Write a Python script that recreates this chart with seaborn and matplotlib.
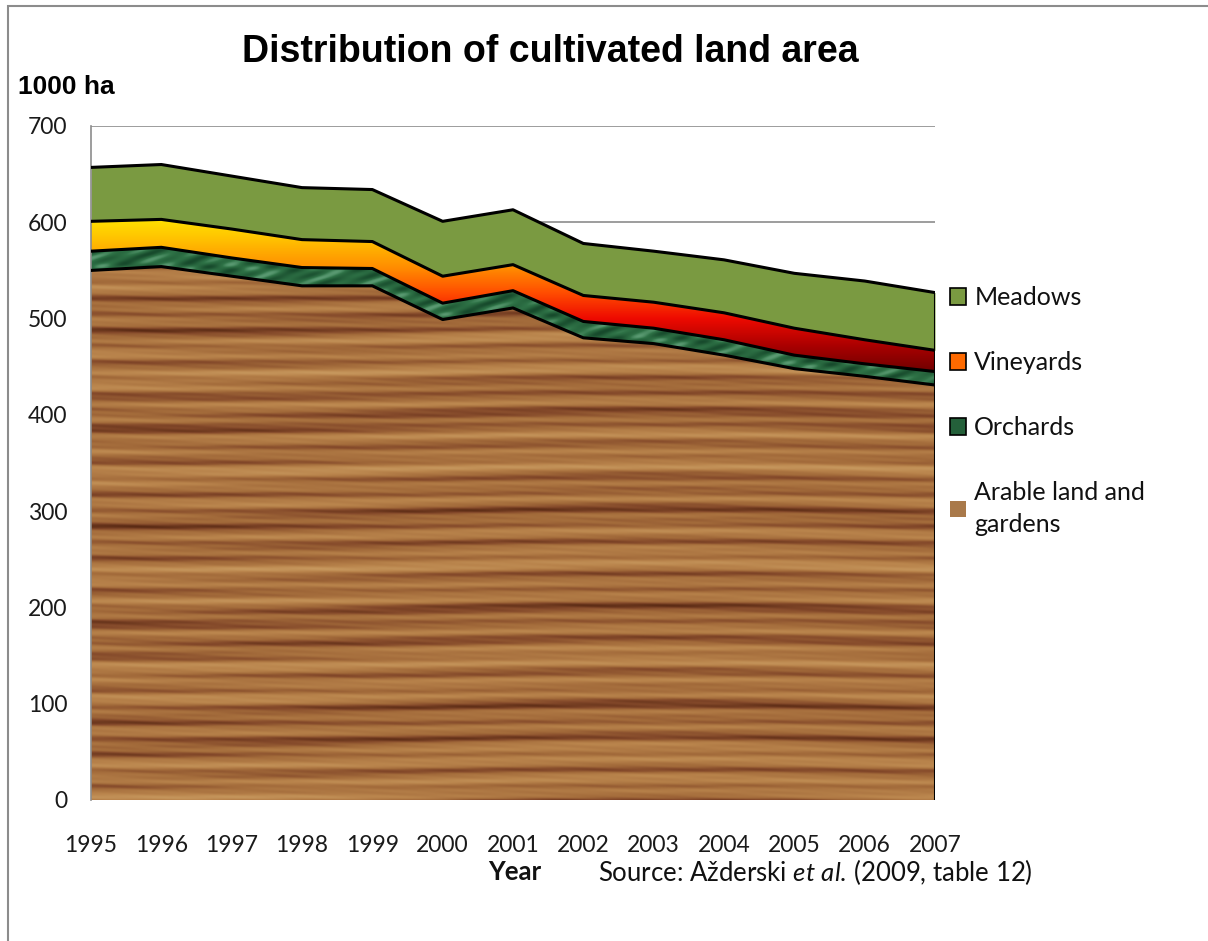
import numpy as np
import pandas as pd
import matplotlib
matplotlib.use('Agg')
import matplotlib.pyplot as plt
import seaborn as sns
from matplotlib.colors import LinearSegmentedColormap, Normalize
from matplotlib.patches import Patch, Rectangle

# data (1000 ha)
years = [1995, 1996, 1997, 1998, 1999, 2000, 2001, 2002, 2003, 2004, 2005, 2006, 2007]
arable = [550, 554, 544, 534, 534, 499, 511, 480, 474, 462, 448, 440, 431]
orchards = [20, 20, 19, 19, 18, 17, 18, 17, 16, 16, 14, 13, 14]
vineyards = [31, 29, 30, 29, 28, 28, 27, 27, 27, 28, 28, 25, 22]
meadows = [56, 57, 55, 54, 54, 57, 57, 54, 53, 55, 57, 61, 60]
series_names = ['Meadows', 'Vineyards', 'Orchards', 'Arable land and\ngardens']
y_ticks = [0, 100, 200, 300, 400, 500, 600, 700]

sns.set_theme(style='white')
plt.rcParams['font.family'] = ['Lato', 'DejaVu Sans']
plt.rcParams['mathtext.fontset'] = 'custom'
plt.rcParams['mathtext.rm'] = 'Lato'
plt.rcParams['mathtext.it'] = 'Lato:italic'
plt.rcParams['text.color'] = '#111111'

df = pd.DataFrame({'year': years, 'arable': arable, 'orchards': orchards,
                   'vineyards': vineyards, 'meadows': meadows})
df['c1'] = df['arable']
df['c2'] = df['c1'] + df['orchards']
df['c3'] = df['c2'] + df['vineyards']
df['c4'] = df['c3'] + df['meadows']

fig = plt.figure(figsize=(12.08, 9.41), dpi=100)
ax = fig.add_axes([91 / 1208, 1 - 800 / 941, (935 - 91) / 1208, (800 - 126) / 941])

x = df['year'].values
x0, x1 = years[0], years[-1]


def clip_image(img, lower, upper, **kw):
    # draw an image and clip it to the band between two curves
    im = ax.imshow(img, extent=[x0, x1, 0, 700], aspect='auto', origin='lower', zorder=2, **kw)
    band = ax.fill_between(x, lower, upper, facecolor='none', edgecolor='none', zorder=2)
    im.set_clip_path(band.get_paths()[0], ax.transData)


# wood texture for arable land
h, w = 700, 850
yy, xx = np.mgrid[0:h, 0:w]
t = (0.5 * np.sin(yy / 2.7 + 0.8 * np.sin(xx / 120.0))
     + 0.35 * np.sin(yy / 5.3 + 1.5 * np.sin(xx / 200.0 + 2.0))
     + 0.2 * np.sin(yy / 1.3 + 0.5 * np.sin(xx / 40.0))
     + 0.25 * np.sin(yy / 17.0 + 0.7 * np.sin(xx / 150.0 + 1.0))
     + 0.08 * np.sin(xx / 13.0 + yy / 0.9))
t = (t - t.min()) / (t.max() - t.min())
wood = LinearSegmentedColormap.from_list('wood', [
    (0.0, '#5a2a14'), (0.22, '#84492a'), (0.45, '#a26a3a'), (0.75, '#b9844c'), (1.0, '#c7985e')])
clip_image(wood(t)[:, :, :3], np.zeros(len(x)), df['c1'].values)

# marble texture for orchards
m = (0.5 * np.sin(xx / 11.0 + 2.0 * np.sin(yy / 4.0)) + 0.5 * np.sin(xx / 5.0 - yy / 2.0))
m = (m - m.min()) / (m.max() - m.min())
marble = LinearSegmentedColormap.from_list('marble', ['#174a2c', '#24603a', '#2f7347', '#5a9a72'])
clip_image(marble(m)[:, :, :3], df['c1'].values, df['c2'].values)

# vertical gradient for vineyards
grad = np.linspace(0, 700, 700).reshape(-1, 1)
fire = LinearSegmentedColormap.from_list('fire', [
    (0.0, '#650000'), (0.18, '#a80000'), (0.35, '#ee0a00'), (0.5, '#ff4a00'),
    (0.65, '#ff8a00'), (0.82, '#ffbe00'), (1.0, '#ffee00')])
clip_image(grad, df['c2'].values, df['c3'].values, cmap=fire, norm=Normalize(440, 612))

# meadows, flat olive
ax.fill_between(x, df['c3'], df['c4'], color='#7a9a41', lw=0, zorder=2)

# outlines
for col in ['c1', 'c2', 'c3', 'c4']:
    sns.lineplot(data=df, x='year', y=col, ax=ax, color='black', lw=2.2, zorder=3)
ax.plot([x1, x1], [0, df['c4'].iloc[-1]], color='black', lw=2.2, zorder=3)

ax.set_xlim(x0, x1)
ax.set_ylim(0, 700)
ax.set_yticks(y_ticks)
ax.set_xticks(years)
ax.yaxis.grid(True, color='#8c8c8c', lw=1.2, zorder=0)
ax.set_axisbelow(True)
for s in ['top', 'right', 'bottom']:
    ax.spines[s].set_visible(False)
ax.spines['left'].set_color('#8c8c8c')
ax.spines['left'].set_linewidth(1.2)
ax.tick_params(axis='y', labelsize=16.5, pad=17, length=0, colors='#1a1a1a')
ax.tick_params(axis='x', labelsize=16.5, pad=25, length=0, colors='#1a1a1a')
ax.set_xlabel('')
ax.set_ylabel('')

# legend
handles = [Patch(facecolor='#7a9a41', edgecolor='black', lw=1.2),
           Patch(facecolor='#ff6a00', edgecolor='black', lw=1.2),
           Patch(facecolor='#24603a', edgecolor='black', lw=1.2),
           Patch(facecolor='#a9794a', edgecolor='none')]
leg = ax.legend(handles, series_names, loc='upper left', bbox_to_anchor=(1.006, 0.777),
                frameon=False, fontsize=18, labelspacing=1.68, handlelength=0.62,
                handleheight=0.62, handletextpad=0.35, borderaxespad=0)
for txt in leg.get_texts():
    txt.set_linespacing(1.45)

fig.text(550 / 1208, 1 - 52 / 941, 'Distribution of cultivated land area', ha='center', va='center',
         fontsize=27, fontweight='bold', family='Liberation Sans', color='black')
fig.text(18 / 1208, 1 - 87 / 941, '1000 ha', ha='left', va='center', fontsize=19,
         fontweight='bold', family='Liberation Sans', color='black')
fig.text(541 / 1208, 1 - 872 / 941, 'Year', ha='right', va='center', fontsize=18.5, fontweight='bold')
fig.text(598 / 1208, 1 - 872 / 941, r'Source: Ažderski $\mathit{et\ al.}\,$(2009, table 12)',
         ha='left', va='center', fontsize=18.5)

# outer chart frame
fig.patches.append(Rectangle((8 / 1208, -0.01), 1.2, 1 - 6 / 941 + 0.01, transform=fig.transFigure,
                             fill=False, edgecolor='#8c8c8c', lw=1.5))

fig.savefig('out.png', dpi=100)
